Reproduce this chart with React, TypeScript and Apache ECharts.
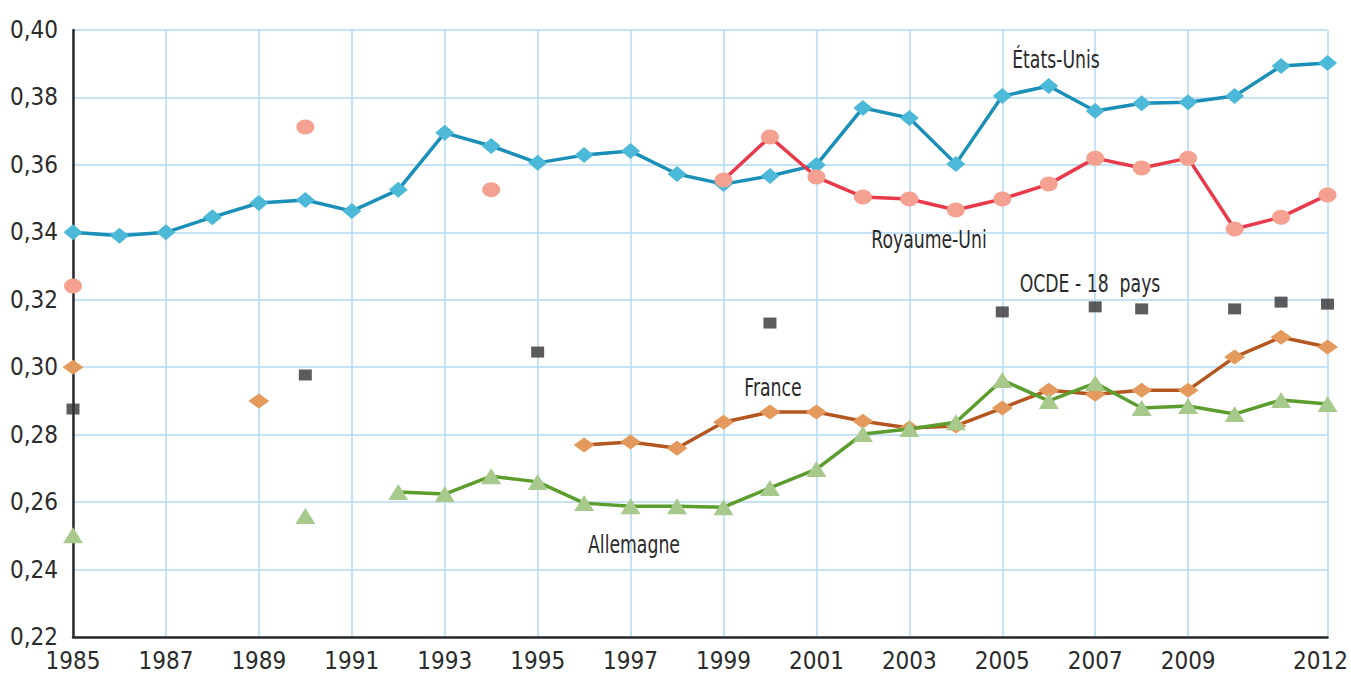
import React, { useEffect, useRef } from "react";
import * as echarts from "echarts";

const years = [
  1985, 1986, 1987, 1988, 1989, 1990, 1991, 1992, 1993, 1994, 1995, 1996, 1997, 1998,
  1999, 2000, 2001, 2002, 2003, 2004, 2005, 2006, 2007, 2008, 2009, 2010, 2011, 2012,
];

const etatsUnis = [
  0.340, 0.339, 0.340, 0.3445, 0.3487, 0.3496, 0.3463, 0.3526, 0.3695, 0.3656, 0.3606, 0.3629, 0.3641, 0.3573,
  0.3543, 0.3567, 0.360, 0.3769, 0.3739, 0.3603, 0.3804, 0.3834, 0.3760, 0.3783, 0.3786, 0.3804, 0.3893, 0.3902,
];

const royaumeUni = [
  0.3241, null, null, null, null, 0.3712, null, null, null, 0.3526, null, null, null, null,
  0.3555, 0.3683, 0.3564, 0.3505, 0.3499, 0.3466, 0.3499, 0.3543, 0.3620, 0.3591, 0.3620, 0.3410, 0.3445, 0.3511,
];

const ocde = [
  0.2876, null, null, null, null, 0.2977, null, null, null, null, 0.3045, null, null, null,
  null, 0.3131, null, null, null, null, 0.3164, null, 0.3179, 0.3173, null, 0.3173, 0.3193, 0.3187,
];

const france = [
  0.3000, null, null, null, 0.2900, null, null, null, null, null, null, 0.2769, 0.2778, 0.2760,
  0.2837, 0.2867, 0.2867, 0.2840, 0.2820, 0.2826, 0.2879, 0.2932, 0.2920, 0.2932, 0.2932, 0.3030, 0.3089, 0.3060,
];

const allemagne = [
  0.2502, null, null, null, null, 0.2559, null, 0.2630, 0.2624, 0.2677, 0.2660, 0.2597, 0.2588, 0.2588,
  0.2585, 0.2642, 0.2698, 0.2802, 0.2817, 0.2837, 0.2962, 0.2900, 0.2953, 0.2879, 0.2885, 0.2861, 0.2903, 0.2891,
];

const yMin = 0.22;
const yMax = 0.4;
const yStep = 0.02;

const FONT = "'DejaVu Sans Condensed', 'Liberation Sans', sans-serif";
const TEXT = "#2b2b2b";
const W = 1351;
const H = 679;

const shownYear = (_i: number, v: string) => {
  const y = Number(v);
  return (y % 2 === 1 && y !== 2011) || y === 2012;
};

const note = (text: string, x: number, y: number) => ({
  type: "text",
  x,
  y,
  z: 100,
  scaleX: 0.8,
  style: {
    text,
    fill: TEXT,
    font: `24px ${FONT}`,
    align: "center",
    verticalAlign: "middle",
  },
});

export default function App() {
  const ref = useRef<HTMLDivElement>(null);

  useEffect(() => {
    document.body.style.margin = "0";
    document.body.style.overflow = "hidden";
    if (!ref.current) return;
    const chart = echarts.init(ref.current, null, { renderer: "svg", width: W, height: H });
    const lastYear = String(years[years.length - 1]);
    chart.setOption({
      animation: false,
      backgroundColor: "#ffffff",
      grid: { left: 73, right: 21, top: 30, bottom: 42, containLabel: false },
      xAxis: {
        type: "category",
        data: years.map(String),
        boundaryGap: false,
        axisLine: { show: true, lineStyle: { color: "#2a2a2a", width: 2.5 } },
        axisTick: { show: false },
        axisLabel: {
          interval: shownYear,
          margin: 12,
          color: TEXT,
          fontFamily: FONT,
          fontSize: 24,
          formatter: (v: string) => (v === lastYear ? "{last|" + v + "}" : v),
          rich: {
            last: { fontFamily: FONT, fontSize: 24, color: TEXT, padding: [0, 14, 0, 0] },
          },
        },
        splitLine: {
          show: true,
          interval: shownYear,
          lineStyle: { color: "#b3daf3", width: 1.5 },
        },
      },
      yAxis: {
        type: "value",
        min: yMin,
        max: yMax,
        interval: yStep,
        axisLine: { show: true, lineStyle: { color: "#2a2a2a", width: 2.5 } },
        axisTick: { show: false },
        axisLabel: {
          margin: 15,
          color: TEXT,
          fontFamily: FONT,
          fontSize: 24,
          padding: [0, 0, 10, 0],
          formatter: (v: number) => v.toFixed(2).replace(".", ","),
        },
        splitLine: { show: true, lineStyle: { color: "#b3daf3", width: 1.5 } },
      },
      series: [
        {
          name: "États-Unis",
          type: "line",
          data: etatsUnis,
          symbol: "diamond",
          symbolSize: [19, 16],
          showAllSymbol: true,
          lineStyle: { color: "#1a8fb8", width: 3.5 },
          itemStyle: { color: "#4db9d8" },
          z: 2,
        },
        {
          name: "Royaume-Uni",
          type: "line",
          data: royaumeUni,
          symbol: "circle",
          symbolSize: [18, 15],
          showAllSymbol: true,
          connectNulls: false,
          lineStyle: { color: "#e83a4b", width: 3.5 },
          itemStyle: { color: "#f4a191" },
          z: 3,
        },
        {
          name: "OCDE - 18 pays",
          type: "scatter",
          data: ocde,
          symbol: "rect",
          symbolSize: [13, 11],
          itemStyle: { color: "#333333" },
          z: 4,
        },
        {
          name: "France",
          type: "line",
          data: france,
          symbol: "diamond",
          symbolSize: [21, 15],
          showAllSymbol: true,
          connectNulls: false,
          lineStyle: { color: "#b4561f", width: 3.5 },
          itemStyle: { color: "#e39a5c" },
          z: 5,
        },
        {
          name: "Allemagne",
          type: "line",
          data: allemagne,
          symbol: "triangle",
          symbolSize: [20, 16],
          showAllSymbol: true,
          connectNulls: false,
          lineStyle: { color: "#5c9e2e", width: 3.5 },
          itemStyle: { color: "#a7c98c" },
          z: 6,
        },
      ],
      graphic: [
        note("États-Unis", 1056, 60),
        note("Royaume-Uni", 929, 240),
        note("OCDE - 18  pays", 1090, 284),
        note("France", 773, 388),
        note("Allemagne", 634, 545),
      ],
    });
    return () => chart.dispose();
  }, []);

  return <div ref={ref} style={{ width: W, height: H }} />;
}
